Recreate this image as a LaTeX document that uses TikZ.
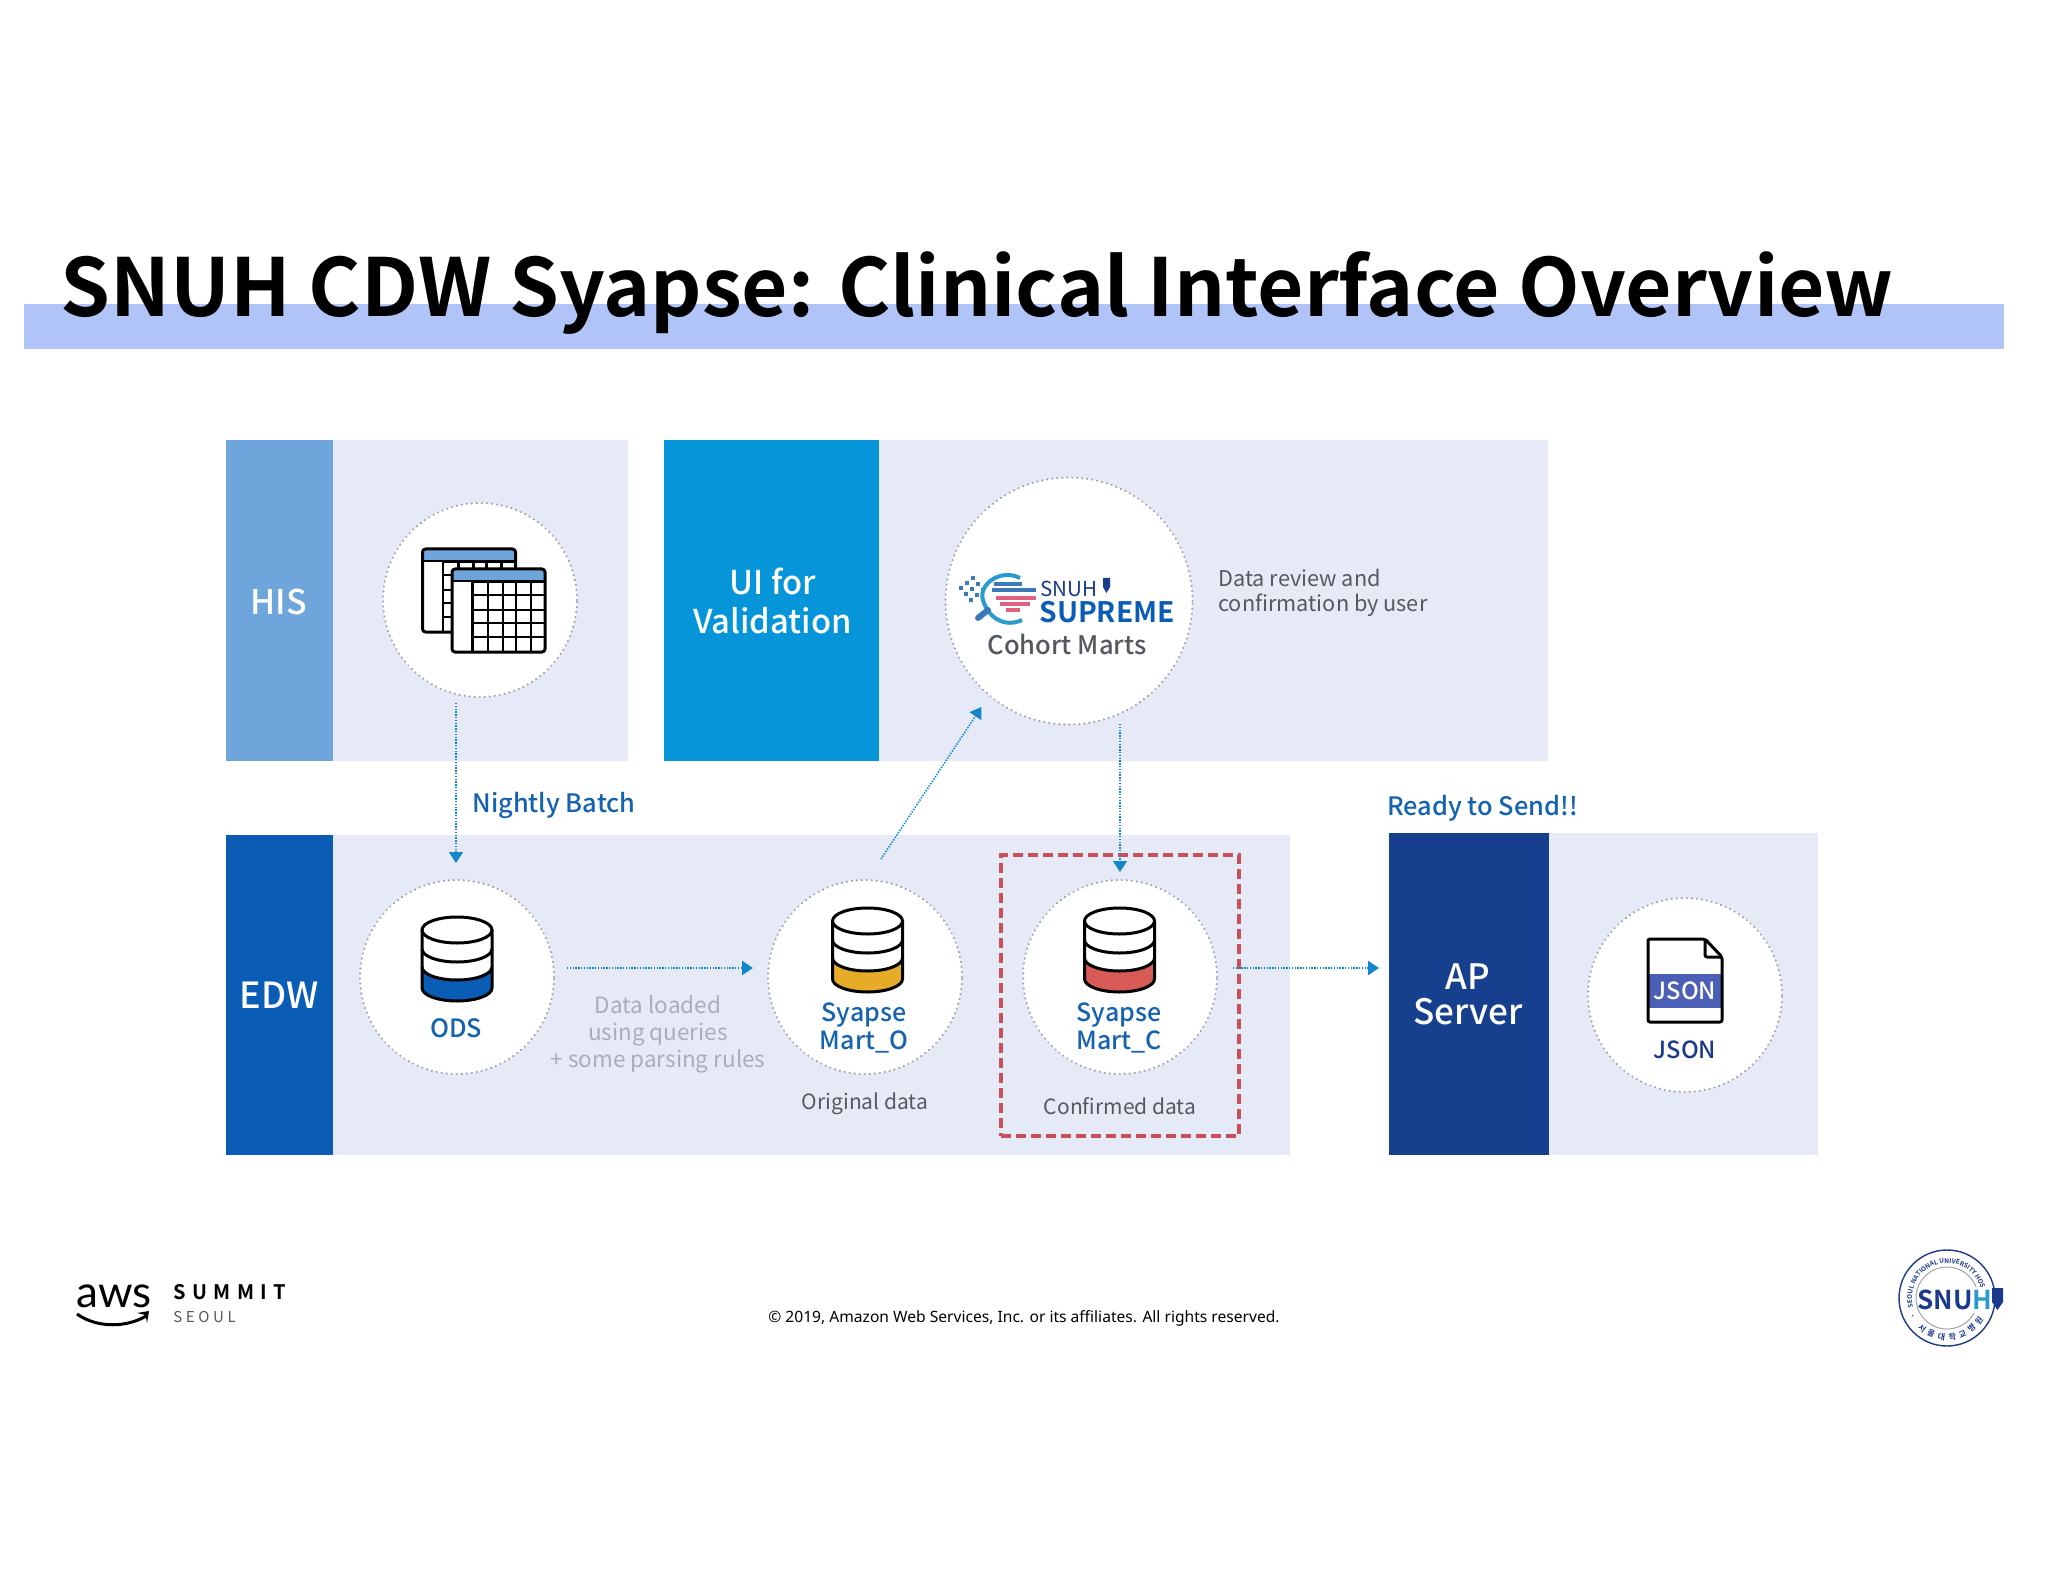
\documentclass[tikz,border=0pt]{standalone}
\usepackage{fontspec}
\setmainfont{Noto Sans}
\newfontfamily\medf{Noto Sans CJK KR Medium}
\newfontfamily\boldf{Noto Sans CJK KR Bold}
\newfontfamily\cjkf{Noto Sans CJK KR}
\newfontfamily\awsf{Lato}
\usetikzlibrary{arrows.meta,decorations.text,calc}
\definecolor{panelc}{HTML}{E6EAF6}
\definecolor{bandc}{HTML}{B0C4F7}
\definecolor{hisc}{HTML}{6EA6DC}
\definecolor{uic}{HTML}{0595D8}
\definecolor{edwc}{HTML}{0A5CB5}
\definecolor{apc}{HTML}{163F8E}
\definecolor{txtb}{HTML}{1462B0}
\definecolor{dotc}{HTML}{A0A5AD}
\definecolor{arrc}{HTML}{1287C8}
\definecolor{greyt}{HTML}{55585F}
\definecolor{lightt}{HTML}{A9ADB8}
\definecolor{redc}{HTML}{C9505A}
\definecolor{ambc}{HTML}{E6AC28}
\definecolor{cylred}{HTML}{D85A56}
\definecolor{jsonb}{HTML}{4A5FB5}
\definecolor{navy}{HTML}{1B3A8C}
\definecolor{stripeb}{HTML}{3C79B8}
\definecolor{stripr}{HTML}{E0607E}
\definecolor{logoc}{HTML}{2A9AD0}
\newcommand\fsz[2]{\fontsize{#1}{#2}\selectfont}
\newcommand\cylinder[3]{%
 \begin{scope}[shift={(#1,-#2)}]
  \fill[white] (-35,-13) -- (-35,-71) arc[start angle=180,end angle=360,x radius=17.5pt,y radius=6.5pt] -- (35,-13) arc[start angle=0,end angle=180,x radius=17.5pt,y radius=6.5pt] -- cycle;
  \fill[#3] (-35,-50) arc[start angle=180,end angle=360,x radius=17.5pt,y radius=6.5pt] -- (35,-71) arc[start angle=0,end angle=-180,x radius=17.5pt,y radius=6.5pt] -- cycle;
  \draw[iconl] (-35,-13) -- (-35,-71) arc[start angle=180,end angle=360,x radius=17.5pt,y radius=6.5pt] -- (35,-13);
  \draw[iconl] (0,-13) ellipse[x radius=17.5pt,y radius=6.5pt];
  \draw[iconl] (-35,-32) arc[start angle=180,end angle=360,x radius=17.5pt,y radius=6.5pt];
  \draw[iconl] (-35,-50) arc[start angle=180,end angle=360,x radius=17.5pt,y radius=6.5pt];
 \end{scope}}
\tikzset{
 x=.5pt,y=.5pt,
 iconl/.style={draw=black,line width=1.5pt,line join=round},
 panel/.style={fill=panelc,draw=none},
 bar/.style={rectangle,draw=none,text=white,inner sep=0pt,align=center},
 dotcircle/.style={circle,fill=white,draw=dotc,line width=1.2pt,line cap=round,dash pattern=on 0.01pt off 2.5pt,inner sep=0pt},
 conn/.style={draw=arrc,line width=.8pt,dash pattern=on .7pt off .7pt,-{Triangle[length=5.5pt,width=7pt,fill=arrc]}},
 lab/.style={inner sep=0pt,align=center},
 blab/.style={lab,text=txtb},
}
\begin{document}
\begin{tikzpicture}
\useasboundingbox (0,0) rectangle (2048,-1582);
\fill[white] (0,0) rectangle (2048,-1582);
% title band
\fill[bandc] (24,-304) rectangle (2004,-349);
\node[lab,anchor=base west,font=\boldf\fsz{40}{42},text=black] (title) at (60,-317) {SNUH CDW Syapse: Clinical Interface Overview};
% panels
\fill[panel] (333,-440) rectangle (628,-761);
\fill[panel] (879,-440) rectangle (1548,-761);
\fill[panel] (333,-835) rectangle (1290,-1155);
\fill[panel] (1549,-833) rectangle (1818,-1155);
% bars
\node[bar,fill=hisc,minimum width=53.5pt,minimum height=160.5pt] (his) at (279.5,-600.5) {};
\node[lab,text=white,font=\medf\fsz{17}{18}] (histxt) at (278.5,-601.5) {HIS};
\node[bar,fill=uic,minimum width=107.5pt,minimum height=160.5pt] (ui) at (771.5,-600.5) {};
\node[lab,text=white,font=\medf\fsz{16.4}{19.6}] (uitxt) at (772.5,-601) {UI for\\Validation};
\node[bar,fill=edwc,minimum width=53.5pt,minimum height=160pt] (edw) at (279.5,-995) {};
\node[lab,text=white,font=\medf\fsz{18}{18}] (edwtxt) at (279,-995) {EDW};
\node[bar,fill=apc,minimum width=80pt,minimum height=161pt] (ap) at (1469,-994) {};
\node[lab,text=white,font=\medf\fsz{17.5}{17.8}] (aptxt) at (1468,-994.5) {AP\\Server};
% circles
\node[dotcircle,minimum size=97pt] (hisc) at (480,-600) {};
\node[dotcircle,minimum size=123.5pt] (sup) at (1069,-601) {};
\node[dotcircle,minimum size=97pt] (ods) at (457,-977) {};
\node[dotcircle,minimum size=97pt] (marto) at (865,-977) {};
\node[dotcircle,minimum size=97pt] (martc) at (1120,-977) {};
\node[dotcircle,minimum size=97pt] (json) at (1685,-995) {};
% red box
\node[rectangle,draw=redc,line width=1.6pt,dash pattern=on 5pt off 2.5pt,minimum width=119pt,minimum height=140.5pt,inner sep=0pt] (redbox) at (1120,-995.5) {};
% connectors
\coordinate (a1s) at (456,-703); \coordinate (a1e) at (456,-863);
\coordinate (a2s) at (567,-968); \coordinate (a2e) at (753,-968);
\coordinate (a3s) at (881,-859); \coordinate (a3e) at (981.5,-707);
\coordinate (a4s) at (1120,-724); \coordinate (a4e) at (1120,-872);
\coordinate (a5s) at (1233,-968); \coordinate (a5e) at (1379,-968);
\draw[conn] (a1s) -- (a1e);
\draw[conn,line width=1.2pt] (a2s) -- (a2e);
\draw[conn] (a3s) -- (a3e);
\draw[conn] (a4s) -- (a4e);
\draw[conn,line width=1.2pt] (a5s) -- (a5e);
% table icon
\foreach \ox/\oy in {422.5/549,452/569}{
 \begin{scope}[shift={(\ox,-\oy)}]
  \fill[white] (0,0) rectangle (93,-83);
  \fill[hisc] (0,0) rectangle (93,-12);
  \foreach \vx in {20.5,36,51,64,79}{\draw[black,line width=1.3pt] (\vx,-12) -- (\vx,-83);}
  \foreach \hy in {13,26,41,54,68}{\draw[black,line width=1.3pt] (20.5,-\hy) -- (93,-\hy);}
  \draw[black,line width=1pt] (0,-12) -- (93,-12);
  \draw[iconl,rounded corners=1.5pt] (0,0) rectangle (93,-83);
 \end{scope}}
% cylinders
\cylinder{457}{917}{edwc}
\cylinder{867.5}{908}{ambc}
\cylinder{1119.5}{908}{cylred}
% json icon
\fill[white] (1648,-939) -- (1705,-939) -- (1722,-957) -- (1722,-1022) -- (1648,-1022) -- cycle;
\fill[jsonb] (1648,-974) rectangle (1722,-1008);
\draw[iconl,rounded corners=1pt] (1648,-939) -- (1705,-939) -- (1722,-957) -- (1722,-1022) -- (1648,-1022) -- cycle;
\draw[iconl,rounded corners=1pt] (1705,-939) -- (1705,-957) -- (1722,-957);
\node[lab,text=white,font=\medf\fsz{11.8}{14}] (jsonicon) at (1685,-991) {JSON};
% labels
\node[lab,anchor=base west,text=txtb,font=\medf\fsz{12.7}{14}] (night) at (472,-812) {Nightly Batch};
\node[lab,anchor=base west,text=txtb,font=\medf\fsz{12.7}{14}] (ready) at (1387,-815) {Ready to Send!!};
\node[lab,text=greyt,font=\medf\fsz{12.8}{14}] (cohort) at (1067,-644) {Cohort Marts};
\node[lab,anchor=west,align=left,text=greyt,font=\cjkf\fsz{10.85}{12.5}] (review) at (1218,-592.5) {Data review and\\confirmation by user};
\node[blab,font=\medf\fsz{12.6}{14}] (odstxt) at (456,-1028) {ODS};
\node[blab,font=\medf\fsz{12.5}{14.2}] (martotxt) at (864,-1028) {Syapse\\Mart\_O};
\node[blab,font=\medf\fsz{12.5}{14.2}] (martctxt) at (1119,-1028) {Syapse\\Mart\_C};
\node[lab,text=lightt,font=\cjkf\fsz{11.25}{13.6}] (loaded) at (658,-1034.5) {Data loaded\\using queries\\+ some parsing rules};
\node[lab,text=greyt,font=\cjkf\fsz{10.5}{11}] (orig) at (865,-1104) {Original data};
\node[lab,text=greyt,font=\cjkf\fsz{10.5}{11}] (conf) at (1120,-1106) {Confirmed data};
\node[lab,text=navy,font=\medf\fsz{11.8}{14}] (jsontxt) at (1685,-1050) {JSON};
% supreme logo
\foreach \dx/\dy in {961/588,967/583,973/578,966/594,972/589,978/584,971/600,977/595,983/590}{
 \fill[stripeb] (\dx-2.2,-\dy-2.2) rectangle (\dx+2.2,-\dy+2.2);}
\draw[logoc,line width=2pt] (1020,-578) .. controls (1000,-568) and (978,-585) .. (983,-600) .. controls (988,-618) and (1005,-628) .. (1022,-620);
\draw[stripeb,line width=3pt,line cap=round] (978,-618) -- (988,-610);
\foreach \sx/\sy/\ex in {994/584/1022,992/590/1036}{\draw[stripeb,line width=1.6pt] (\sx,-\sy) -- (\ex,-\sy);}
\foreach \sx/\sy/\ex in {996/598/1036,1000/604/1030,1006/610/1020}{\draw[stripr,line width=1.6pt] (\sx,-\sy) -- (\ex,-\sy);}
\node[lab,anchor=west,text=navy,font=\cjkf\fsz{10.3}{11}] (snuh1) at (1040,-589) {SNUH};
\node[lab,anchor=west,text=edwc,font=\boldf\fsz{14.1}{14.5}] (supreme) at (1039,-612) {SUPREME};
\fill[navy] (1103,-578) -- (1110,-578) -- (1110,-587) -- (1106.5,-593) -- (1103,-587) -- cycle;
% footer
\node[lab,anchor=base,text=black,font=\fsz{7.8}{10}] (copy) at (1024,-1322) {© 2019, Amazon Web Services, Inc. or its affiliates. All rights reserved.};
\node[lab,anchor=base west,text=black,font=\awsf\fsz{22}{22}] (aws) at (76,-1307) {aws};
\draw[black,line width=1.5pt] (77,-1314) .. controls (98,-1329) and (128,-1327) .. (146,-1316);
\fill[black] (137,-1313) -- (149,-1311) -- (147,-1323) -- (145.5,-1315) -- cycle;
\node[lab,anchor=base west,text=black,font={\boldf\fsz{10}{11}\addfontfeature{LetterSpace=32}}] (summit) at (173,-1299) {SUMMIT};
\node[lab,anchor=base west,text=greyt,font={\cjkf\fsz{7.5}{9}\addfontfeature{LetterSpace=24}}] (seoul) at (173,-1322) {SEOUL};
% seal
\begin{scope}[shift={(1947,-1298)}]
 \draw[navy,line width=.7pt] (0,0) circle[radius=24pt];
 \draw[dotc,line width=.5pt] (0,0) circle[radius=15.5pt];
 \path[decorate,decoration={text along path,text align={fit to path},text={|\boldf\fsz{3.2}{4}\color{navy}|SEOUL NATIONAL UNIVERSITY HOSPITAL}}] (195:17.5pt) arc[start angle=195,end angle=15,radius=17.5pt];
 \path[decorate,decoration={text along path,text align={fit to path},text={|\boldf\fsz{4}{5}\color{navy}|· 서울대학교병원}}] (205:21pt) arc[start angle=205,end angle=330,radius=21pt];
\end{scope}
\fill[white] (1922,-1287) rectangle (1990,-1313);
\node[lab,text=navy,font=\boldf\fsz{13}{13}] (snuh2) at (1955,-1300) {SNU\textcolor{logoc}{H}};
\fill[navy] (1992,-1288) -- (2003,-1288) -- (2003,-1302) -- (1997.5,-1310) -- (1992,-1302) -- cycle;
\end{tikzpicture}
\end{document}
